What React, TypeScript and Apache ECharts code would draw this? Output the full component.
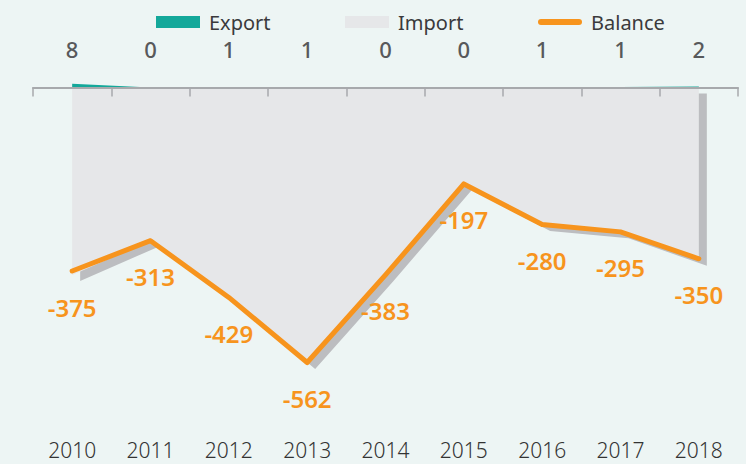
import React, { useEffect, useRef } from "react";
import * as echarts from "echarts";

const years = ["2010", "2011", "2012", "2013", "2014", "2015", "2016", "2017", "2018"];
const exportValues = [8, 0, 1, 1, 0, 0, 1, 1, 2];
const importValues = [-383, -313, -430, -563, -383, -197, -281, -296, -352];
const balanceValues = [-375, -313, -429, -562, -383, -197, -280, -295, -350];

const FONT = "'Noto Sans', sans-serif";

export default function App() {
  const ref = useRef<HTMLDivElement>(null);
  useEffect(() => {
    if (!ref.current) return;
    const chart = echarts.init(ref.current, undefined, { renderer: "svg" });
    const legendText = {
      fontSize: 20,
      color: "#3a3a3c",
      fontFamily: FONT,
      rich: { p: { width: 4 } },
    };
    const fmt = (name: string) => "{p|}" + name;
    chart.setOption({
      animation: false,
      backgroundColor: "#edf5f4",
      legend: [
        { data: [{ name: "Export", icon: "rect" }], left: 151, top: 7, itemWidth: 44, itemHeight: 12, itemGap: 0, formatter: fmt, textStyle: legendText },
        { data: [{ name: "Import", icon: "rect" }], left: 340, top: 7, itemWidth: 44, itemHeight: 12, itemGap: 0, formatter: fmt, textStyle: legendText },
        { data: [{ name: "Balance", icon: "path://M3,0 H41 A3,3 0 0 1 41,6 H3 A3,3 0 0 1 3,0 Z" }], left: 533, top: 7, itemWidth: 44, itemHeight: 12, itemGap: 0, formatter: fmt, textStyle: legendText },
      ],
      grid: { left: 33, right: 8, top: 68, bottom: 34, containLabel: false },
      xAxis: [
        {
          type: "category",
          position: "top",
          data: exportValues.map(String),
          boundaryGap: true,
          z: 3,
          axisLine: { show: true, onZero: true, lineStyle: { color: "#a7a9ac", width: 2 } },
          axisTick: { show: true, inside: true, length: 9, lineStyle: { color: "#a7a9ac", width: 1.5 } },
          axisLabel: { show: true, margin: 8, fontSize: 22, fontWeight: 500, color: "#58595b", fontFamily: FONT },
          splitLine: { show: false },
        },
        {
          type: "category",
          position: "bottom",
          data: years,
          boundaryGap: true,
          axisLine: { show: false },
          axisTick: { show: false },
          axisLabel: { show: true, margin: 9, fontSize: 21, fontWeight: 300, color: "#333333", fontFamily: FONT },
          splitLine: { show: false },
        },
      ],
      yAxis: { type: "value", min: -700, max: 40, show: false, splitLine: { show: false } },
      series: [
        {
          name: "Import",
          type: "line",
          xAxisIndex: 0,
          data: importValues,
          symbol: "none",
          color: "#e6e7e9",
          lineStyle: { width: 0 },
          areaStyle: {
            color: "#e6e7e9",
            opacity: 1,
            shadowColor: "#bcbdc0",
            shadowOffsetX: 8,
            shadowOffsetY: 6,
            shadowBlur: 0,
          },
          z: 1,
        },
        {
          name: "Export",
          type: "line",
          xAxisIndex: 0,
          data: exportValues,
          symbol: "none",
          color: "#14a89a",
          lineStyle: { width: 0 },
          areaStyle: { color: "#14a89a", opacity: 1 },
          z: 2,
        },
        {
          name: "Balance",
          type: "line",
          xAxisIndex: 0,
          data: balanceValues,
          symbol: "circle",
          symbolSize: 4,
          showSymbol: true,
          itemStyle: { color: "#f7941d" },
          color: "#f7941d",
          lineStyle: { width: 5, color: "#f7941d", cap: "round", join: "round" },
          label: {
            show: true,
            position: "bottom",
            distance: 22,
            fontSize: 24,
            fontWeight: 600,
            color: "#f7941d",
            fontFamily: FONT,
          },
          z: 4,
        },
      ],
    });
    return () => chart.dispose();
  }, []);
  return (
    <div
      ref={ref}
      style={{ position: "absolute", left: 0, top: 0, width: 746, height: 464 }}
    />
  );
}
